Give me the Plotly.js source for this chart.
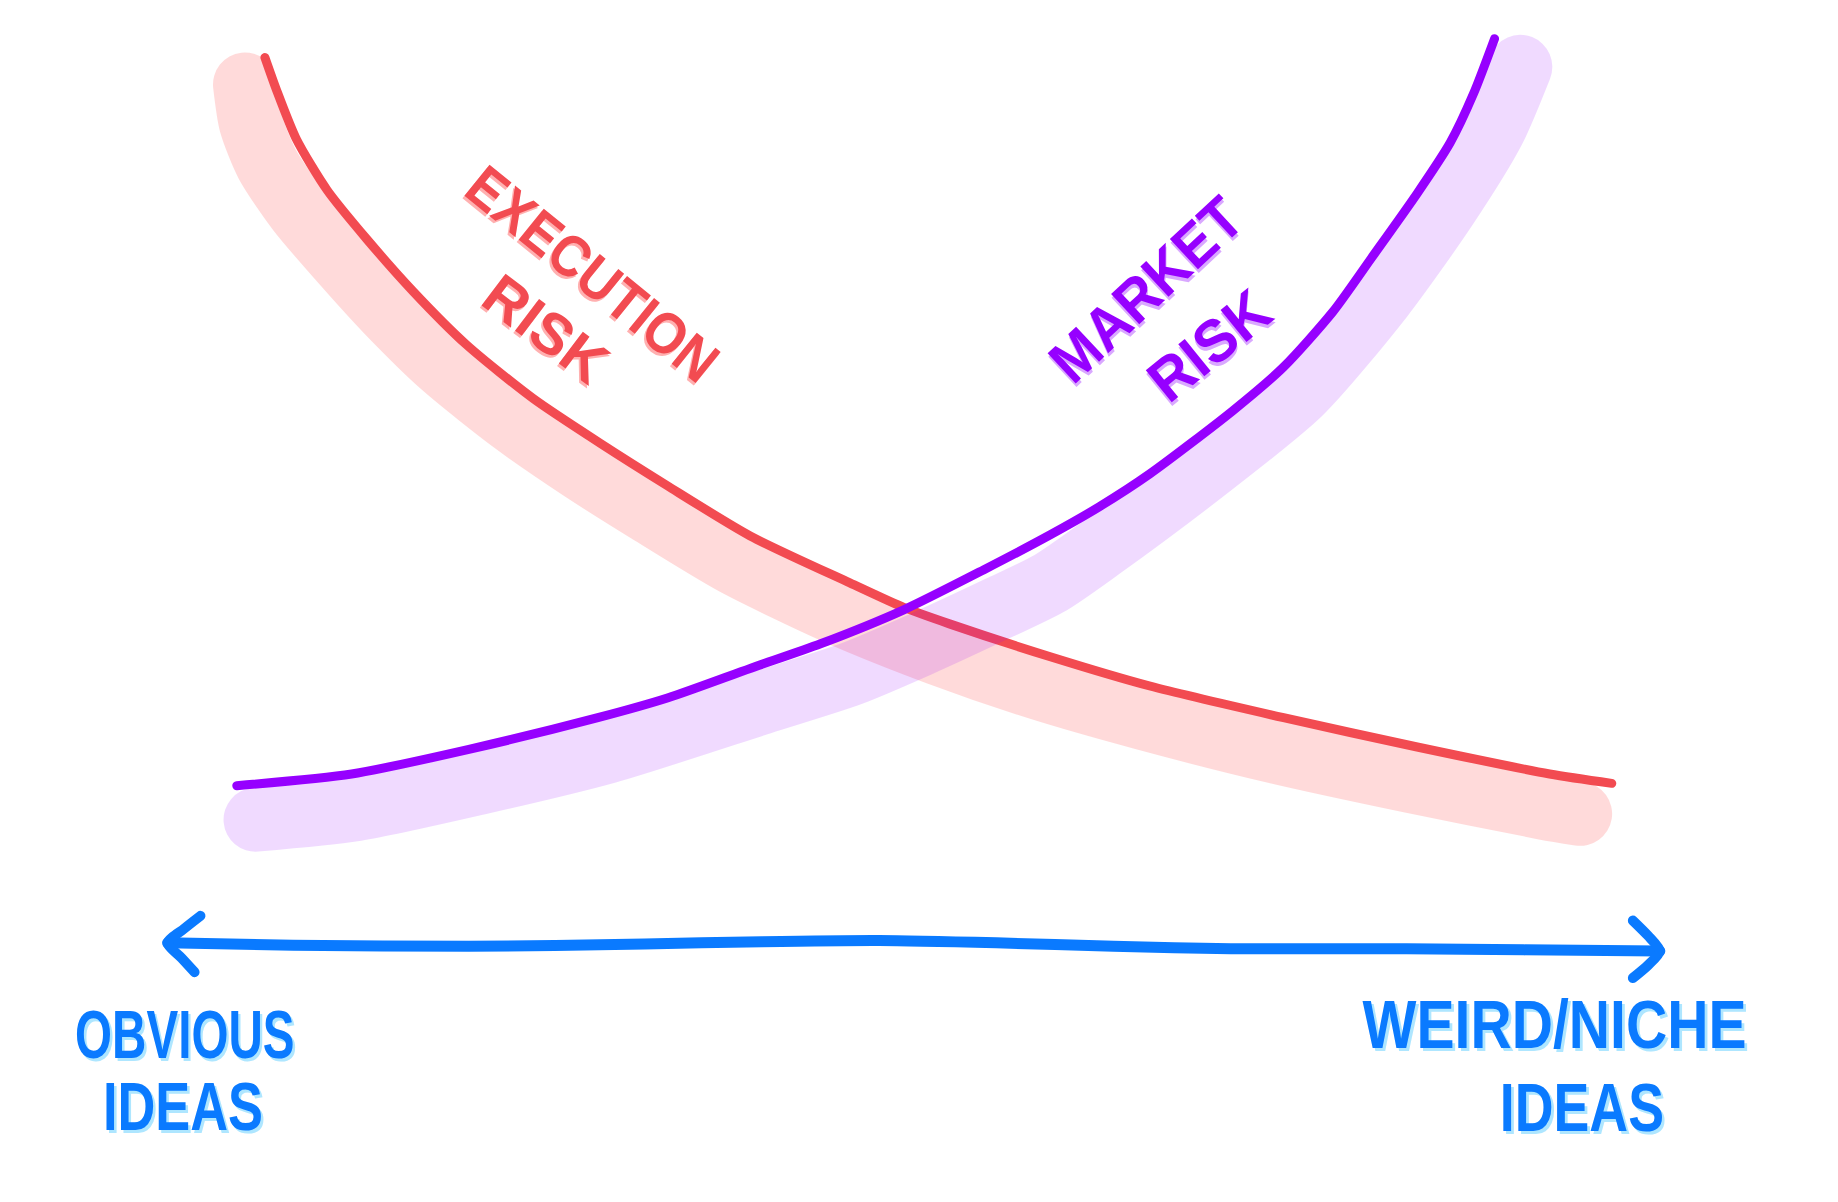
<!DOCTYPE html>
<html>
<head>
<meta charset="utf-8">
<script src="https://cdn.plot.ly/plotly-3.0.1.min.js"></script>
<style>
  html, body { margin: 0; padding: 0; background: #ffffff; }
  #chart { width: 1838px; height: 1202px; }
  .scatterlayer .js-line { stroke-linecap: round !important; stroke-linejoin: round !important; }
</style>
</head>
<body>
<div id="chart"></div>
<script>
// ---- Data (units: sketch canvas, x 0..1568 left→right, y 0..1025 top→bottom) ----
// Execution risk: thin stroke
const execX = [226, 236, 253, 279, 313, 352, 398, 455, 512, 569, 640, 725, 771, 810, 896, 981, 1095, 1209, 1322, 1375];
const execY = [49, 77, 119, 162, 204, 248, 294, 340, 378, 414, 457, 497, 518, 532, 560, 585, 612, 637, 660, 668];
// Execution risk: soft highlighter band
const execBandX = [209, 214, 228, 255, 290, 330, 378, 438, 496, 553, 626, 713, 800, 887, 974, 1088, 1203, 1318, 1348];
const execBandY = [72, 105, 140, 180, 221, 265, 312, 360, 400, 436, 480, 522, 557, 587, 612, 641, 666, 689, 694];

// Market risk: thin stroke
const marketX = [202, 300, 400, 510, 570, 640, 700, 771, 839, 896, 938, 981, 1052, 1095, 1137, 1170, 1209, 1237, 1257, 1275];
const marketY = [670, 660, 639, 612, 595, 570, 549, 520, 486, 456, 432, 404, 350, 313, 266, 220, 165, 122, 80, 33];
// Market risk: soft highlighter band
const marketBandX = [218, 304, 407, 518, 650, 725, 784, 853, 896, 938, 1024, 1109, 1179, 1234, 1274, 1297];
const marketBandY = [699, 690, 668, 641, 599, 575, 550, 518, 497, 468, 404, 335, 253, 176, 111, 57];

// Horizontal axis arrow (obvious → weird/niche)
const axisX = [143, 250, 400, 550, 650, 750, 850, 950, 1050, 1200, 1300, 1416];
const axisY = [804, 806, 807, 805, 803, 802, 804, 807, 809, 809, 810, 811];
const headLeftX = [171, 157, 143, 155, 166];
const headLeftY = [781, 792, 804, 817, 829];
const headRightX = [1393, 1406, 1416, 1406, 1393];
const headRightY = [785, 798, 811, 823, 834];

// Labels
const labelText = ["EXECUTION", "RISK", "MARKET", "RISK", "OBVIOUS", "IDEAS", "WEIRD/NICHE", "IDEAS"];
const labelX = [506, 466, 978, 1032, 158, 156, 1326, 1350];
const labelY = [233, 280, 247, 295, 882, 943, 873, 944];
const labelAngle = [39, 37, -43, -39, 0, 0, 0, 0];
const labelGroup = ["exec", "exec", "market", "market", "axis", "axis", "axis", "axis"];
const labelSquash = [0.9, 1, 0.93, 0.96, 0.70, 0.77, 0.84, 0.79];

// ---- Styles ----
const RED = "#f24b51";
const PURPLE = "#9600ff";
const BLUE = "#0a7aff";

const styles = {
  exec:   { color: RED,    shadow: "0px 3px 0px #ffb0b0", size: 58, family: "Liberation Sans, Arial, sans-serif" },
  market: { color: PURPLE, shadow: "-2px 3px 0px #d9a8ff", size: 60, family: "Liberation Sans, Arial, sans-serif" },
  axis:   { color: BLUE,   shadow: "3px 3px 0px #aee6ff", size: 68, family: "Liberation Sans, Arial, sans-serif" }
};

function lineTrace(x, y, color, width) {
  return {
    x: x, y: y, type: "scatter", mode: "lines",
    line: { color: color, width: width, shape: "spline", smoothing: 0.7 },
    hoverinfo: "skip", showlegend: false
  };
}

const traces = [
  lineTrace(execBandX, execBandY, "rgba(255,80,80,0.21)", 64),
  lineTrace(execX, execY, RED, 9),
  lineTrace(marketBandX, marketBandY, "rgba(150,0,255,0.145)", 64),
  lineTrace(marketX, marketY, PURPLE, 9),
  lineTrace(axisX, axisY, BLUE, 11),
  lineTrace(headLeftX, headLeftY, BLUE, 10),
  lineTrace(headRightX, headRightY, BLUE, 10)
];

const annotations = labelText.map((t, i) => {
  const s = styles[labelGroup[i]];
  return {
    x: labelX[i], y: labelY[i], xref: "x", yref: "y",
    text: t, showarrow: false, textangle: labelAngle[i],
    xanchor: "center", yanchor: "middle",
    font: { family: s.family, size: s.size, color: s.color, weight: "bold", shadow: s.shadow }
  };
});

const layout = {
  width: 1838, height: 1202,
  margin: { l: 0, r: 0, t: 0, b: 0, pad: 0 },
  paper_bgcolor: "#ffffff", plot_bgcolor: "#ffffff",
  xaxis: { range: [0, 1568], visible: false, fixedrange: true },
  yaxis: { range: [1025, 0], visible: false, fixedrange: true },
  showlegend: false,
  annotations: annotations
};

Plotly.newPlot("chart", traces, layout, { displayModeBar: false, staticPlot: true }).then(() => {
  // hand-lettered labels are tall and narrow: condense them along the text direction
  labelSquash.forEach((k, i) => {
    if (k === 1) return;
    const el = document.querySelector('g.annotation[data-index="' + i + '"] text.annotation-text');
    if (el) {
      el.style.transformBox = "fill-box";
      el.style.transformOrigin = "center";
      el.style.transform = "scaleX(" + k + ")";
    }
  });
});
</script>
</body>
</html>
